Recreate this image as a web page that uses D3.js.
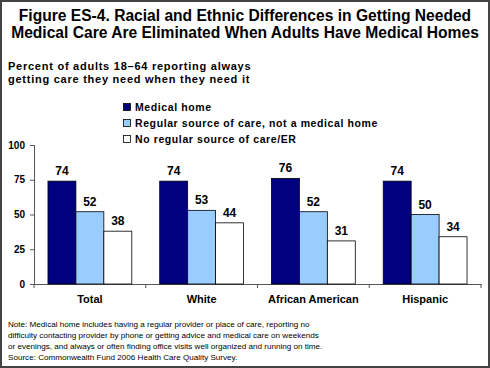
<!DOCTYPE html>
<html><head><meta charset="utf-8">
<script src="https://cdn.jsdelivr.net/npm/d3@7"></script>
<style>body{margin:0;background:#fff}svg{display:block}text{font-family:"Liberation Sans",Arial,sans-serif}</style>
</head><body><svg id="c" width="490" height="368"></svg>
<script>
const categories = ["Total","White","African American","Hispanic"];
const seriesNames = ["Medical home","Regular source of care, not a medical home","No regular source of care/ER"];
const medicalHome = [74,74,76,74];
const regularSource = [52,53,52,50];
const noRegular = [38,44,31,34];
const yTicks = [0,25,50,75,100];
const titleLines = ["Figure ES-4. Racial and Ethnic Differences in Getting Needed","Medical Care Are Eliminated When Adults Have Medical Homes"];
const subtitleLines = ["Percent of adults 18\u201364 reporting always","getting care they need when they need it"];
const noteLines = ["Note: Medical home includes having a regular provider or place of care, reporting no",
"difficulty contacting provider by phone or getting advice and medical care on weekends",
"or evenings, and always or often finding office visits well organized and running on time.",
"Source: Commonwealth Fund 2006 Health Care Quality Survey."];
const colors = ["#000080","#99CCFF","#FFFFFF"];

const seriesValues = [medicalHome, regularSource, noRegular];
const svg = d3.select("#c");
svg.append("rect").attr("x",1).attr("y",1).attr("width",488).attr("height",366).attr("fill","#fff").attr("stroke","#444").attr("stroke-width",2);

const title = svg.append("text").attr("text-anchor","middle").attr("font-weight","bold").attr("font-size",15.6);
titleLines.forEach((t,i)=>title.append("tspan").attr("x",245).attr("y",21+i*17).text(t));

const sub = svg.append("text").attr("font-weight","bold").attr("font-size",11).attr("letter-spacing",0.75);
subtitleLines.forEach((t,i)=>sub.append("tspan").attr("x",8).attr("y",70+i*13).text(t));

const x0 = d3.scaleBand().domain(categories).range([34,481]);
const x1 = d3.scaleBand().domain(seriesNames).range([0,x0.bandwidth()]).paddingOuter(0.5);
const y = d3.scaleLinear().domain([0,100]).range([284,145]);

const yAxis = svg.append("g").attr("transform","translate(34,0)")
  .call(d3.axisLeft(y).tickValues(yTicks).tickSize(4).tickPadding(5));
yAxis.selectAll("text").attr("font-weight","bold").attr("font-size",10).style("font-family","Liberation Sans, Arial");
yAxis.selectAll("path,line").attr("stroke","#555");

const xAxis = svg.append("g").attr("transform","translate(0,284)")
  .call(d3.axisBottom(x0).tickSize(0).tickPadding(11));
xAxis.select("path").attr("stroke","#555");
xAxis.selectAll("text").attr("font-weight","bold").attr("font-size",11).style("font-family","Liberation Sans, Arial");
const bounds = categories.map(c=>x0(c)).concat([x0.range()[1]]);
xAxis.selectAll("line.b").data(bounds).enter().append("line").attr("class","b")
  .attr("x1",d=>d).attr("x2",d=>d).attr("y1",0).attr("y2",4).attr("stroke","#555");

const groups = svg.append("g").selectAll("g").data(categories).enter().append("g")
  .attr("transform",d=>`translate(${x0(d)},0)`);
groups.each(function(cat,ci){
  const g = d3.select(this);
  seriesNames.forEach((s,si)=>{
    const v = seriesValues[si][ci];
    g.append("rect").attr("x",x1(s)).attr("y",y(v)).attr("width",x1.bandwidth()).attr("height",y(0)-y(v))
      .attr("fill",colors[si]).attr("stroke","#000").attr("stroke-width",0.8);
    g.append("text").attr("x",x1(s)+x1.bandwidth()/2).attr("y",y(v)-6).attr("text-anchor","middle")
      .attr("font-weight","bold").attr("font-size",12).text(v);
  });
});

const leg = svg.append("g");
seriesNames.forEach((s,i)=>{
  const yy = 111+i*16;
  leg.append("rect").attr("x",123.5).attr("y",yy-7.5).attr("width",7).attr("height",7).attr("fill",colors[i]).attr("stroke","#000").attr("stroke-width",0.8);
  leg.append("text").attr("x",135).attr("y",yy).attr("font-weight","bold").attr("font-size",10.5).attr("letter-spacing",0.6).text(s);
});

const note = svg.append("text").attr("font-size",8.1).attr("fill","#000");
noteLines.forEach((t,i)=>note.append("tspan").attr("x",8).attr("y",327+i*11).text(t));
</script></body></html>
